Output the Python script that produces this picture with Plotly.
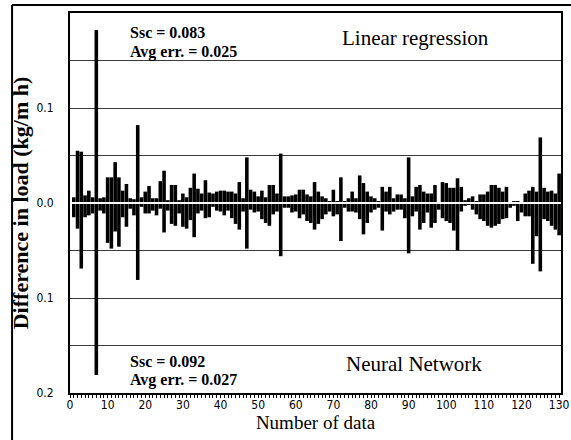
import plotly.graph_objects as go

# Number of data (1..130)
data_index = list(range(1, 131))

# Linear regression: difference in load (kg/m h), plotted upward
linear_regression = [
    0.006, 0.055, 0.054, 0.008, 0.013, 0.006, 0.182, 0.005, 0.006, 0.027,
    0.027, 0.043, 0.027, 0.013, 0.020, 0.005, 0.004, 0.082, 0.006, 0.012,
    0.018, 0.005, 0.005, 0.023, 0.034, 0.003, 0.019, 0.019, 0.003, 0.010,
    0.006, 0.016, 0.031, 0.015, 0.010, 0.024, 0.011, 0.010, 0.012, 0.013,
    0.013, 0.012, 0.012, 0.010, 0.022, 0.005, 0.048, 0.014, 0.012, 0.007,
    0.013, 0.006, 0.019, 0.019, 0.010, 0.052, 0.007, 0.007, 0.008, 0.009,
    0.014, 0.014, 0.009, 0.007, 0.022, 0.012, 0.007, 0.005, 0.002, 0.014,
    0.002, 0.027, 0.002, 0.005, 0.012, 0.005, 0.029, 0.021, 0.012, 0.007,
    0.005, 0.002, 0.017, 0.012, 0.017, 0.005, 0.009, 0.009, 0.005, 0.048,
    0.007, 0.017, 0.019, 0.012, 0.010, 0.010, 0.019, 0.001, 0.022, 0.021,
    0.016, 0.016, 0.026, 0.017, 0.003, 0.005, 0.007, 0.002, 0.009, 0.009,
    0.012, 0.019, 0.019, 0.016, 0.012, 0.017, 0.001, 0.002, 0.002, 0.001,
    0.010, 0.013, 0.017, 0.012, 0.069, 0.016, 0.012, 0.013, 0.010, 0.031,
]

# Neural network: difference in load (kg/m h), plotted downward
neural_network = [
    0.015, 0.027, 0.069, 0.015, 0.013, 0.011, 0.181, 0.008, 0.011, 0.042,
    0.048, 0.030, 0.046, 0.015, 0.025, 0.006, 0.013, 0.081, 0.004, 0.011,
    0.011, 0.008, 0.013, 0.006, 0.031, 0.008, 0.022, 0.024, 0.011, 0.025,
    0.027, 0.018, 0.036, 0.011, 0.008, 0.016, 0.015, 0.004, 0.008, 0.009,
    0.013, 0.008, 0.016, 0.022, 0.028, 0.009, 0.048, 0.007, 0.010, 0.009,
    0.017, 0.021, 0.024, 0.012, 0.009, 0.056, 0.005, 0.005, 0.010, 0.009,
    0.016, 0.012, 0.019, 0.021, 0.028, 0.022, 0.017, 0.012, 0.009, 0.014,
    0.012, 0.040, 0.005, 0.009, 0.009, 0.010, 0.017, 0.033, 0.021, 0.010,
    0.007, 0.005, 0.029, 0.009, 0.012, 0.009, 0.007, 0.007, 0.016, 0.053,
    0.014, 0.009, 0.028, 0.021, 0.010, 0.026, 0.021, 0.007, 0.016, 0.019,
    0.021, 0.029, 0.050, 0.009, 0.003, 0.002, 0.007, 0.012, 0.017, 0.019,
    0.024, 0.026, 0.024, 0.022, 0.017, 0.016, 0.005, 0.003, 0.019, 0.010,
    0.014, 0.014, 0.064, 0.035, 0.072, 0.017, 0.019, 0.024, 0.028, 0.034,
]

y_tickvals = [-0.2, -0.15, -0.1, -0.05, 0.0, 0.05, 0.1, 0.15]
y_ticktext = ["0.2", "", "0.1", "", "0.0", "", "0.1", ""]
x_tickvals = list(range(0, 131, 10))

serif = "Liberation Serif, Times New Roman, serif"
narrow = "Liberation Sans Narrow, DejaVu Sans Condensed, Liberation Sans, sans-serif"

fig = go.Figure()
fig.add_trace(go.Bar(x=data_index, y=linear_regression, marker_color="black",
                     marker_line_width=0, name="Linear regression"))
fig.add_trace(go.Bar(x=data_index, y=[-v for v in neural_network], marker_color="black",
                     marker_line_width=0, name="Neural Network"))

fig.update_layout(
    width=571, height=440,
    margin=dict(l=70, r=10, t=13, b=47, autoexpand=False),
    paper_bgcolor="white", plot_bgcolor="white",
    barmode="relative", bargap=0.05,
    showlegend=False,
    font=dict(family=serif, color="black"),
)

fig.update_xaxes(
    range=[0, 130.5], tickvals=x_tickvals, ticks="", showgrid=False, zeroline=False,
    automargin=False, showline=True, linecolor="black", linewidth=2, mirror=True,
    ticklabeloverflow="allow",
    tickfont=dict(family=narrow, size=12, color="black"),
    minor=dict(dtick=1, ticks="outside", ticklen=3, tickcolor="black", showgrid=False),
    title=dict(text="Number of data", font=dict(family=serif, size=19), standoff=0),
)

fig.update_yaxes(
    range=[-0.2, 0.2], tickvals=y_tickvals, ticktext=y_ticktext,
    ticks="", showgrid=True, gridcolor="#3a3a3a", gridwidth=1,
    zeroline=False, showline=True, linecolor="black", linewidth=2, mirror=True,
    automargin=False, ticklabelstandoff=12,
    tickfont=dict(family=narrow, size=12, color="black"),
    title=dict(text="<b>Difference in load (kg/m h)</b>", font=dict(family=serif, size=22), standoff=2),
)

# white zero line splitting the two bar sets
fig.add_shape(type="line", xref="paper", yref="y", x0=0, x1=1, y0=0, y1=0,
              line=dict(color="white", width=2), layer="above")

# scanned page frame
fig.add_shape(type="line", xref="paper", yref="paper", x0=-0.118, x1=1.03, y0=1.021, y1=1.021,
              line=dict(color="black", width=2))
fig.add_shape(type="line", xref="paper", yref="paper", x0=-0.118, x1=-0.118, y0=1.021, y1=-0.2,
              line=dict(color="black", width=2))

anno_font = dict(family=serif, size=16, color="black")
big_font = dict(family=serif, size=21, color="black")
fig.add_annotation(xref="paper", yref="paper", x=0.118, y=0.950, xanchor="left", yanchor="middle",
                   text="<b>Ssc = 0.083</b>", showarrow=False, font=anno_font)
fig.add_annotation(xref="paper", yref="paper", x=0.118, y=0.897, xanchor="left", yanchor="middle",
                   text="<b>Avg err. = 0.025</b>", showarrow=False, font=anno_font)
fig.add_annotation(xref="paper", yref="paper", x=0.704, y=0.934, xanchor="center", yanchor="middle",
                   text="Linear regression", showarrow=False, font=big_font)
fig.add_annotation(xref="paper", yref="paper", x=0.118, y=0.084, xanchor="left", yanchor="middle",
                   text="<b>Ssc = 0.092</b>", showarrow=False, font=anno_font)
fig.add_annotation(xref="paper", yref="paper", x=0.118, y=0.034, xanchor="left", yanchor="middle",
                   text="<b>Avg err. = 0.027</b>", showarrow=False, font=anno_font)
fig.add_annotation(xref="paper", yref="paper", x=0.700, y=0.076, xanchor="center", yanchor="middle",
                   text="Neural Network", showarrow=False, font=big_font)

fig.write_html("out.html", config={"displayModeBar": False},
               post_script="document.body.style.margin='0';")
